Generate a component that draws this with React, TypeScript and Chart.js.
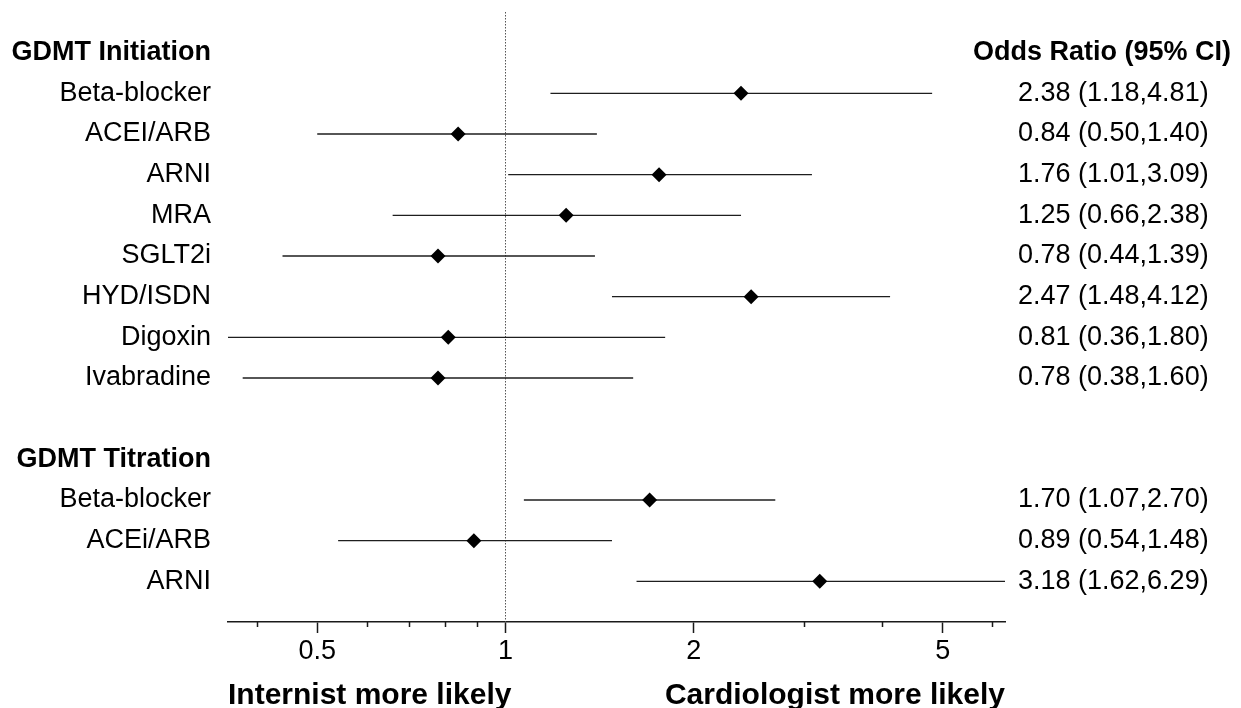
import React, { useEffect, useRef } from 'react';
import { Chart, registerables } from 'chart.js';

Chart.register(...registerables);

// ---- data ----
const rowLabels = [
  'GDMT Initiation',
  'Beta-blocker',
  'ACEI/ARB',
  'ARNI',
  'MRA',
  'SGLT2i',
  'HYD/ISDN',
  'Digoxin',
  'Ivabradine',
  '',
  'GDMT Titration',
  'Beta-blocker',
  'ACEi/ARB',
  'ARNI',
];
const headerRows = [0, 10];
const oddsRatio = [null, 2.38, 0.84, 1.76, 1.25, 0.78, 2.47, 0.81, 0.78, null, null, 1.7, 0.89, 3.18];
const ciLower = [null, 1.18, 0.5, 1.01, 0.66, 0.44, 1.48, 0.36, 0.38, null, null, 1.07, 0.54, 1.62];
const ciUpper = [null, 4.81, 1.4, 3.09, 2.38, 1.39, 4.12, 1.8, 1.6, null, null, 2.7, 1.48, 6.29];
const majorTicks = [0.5, 1, 2, 5];
const minorTicks = [0.4, 0.6, 0.7, 0.8, 0.9, 3, 4, 6];
const columnHeader = 'Odds Ratio (95% CI)';
const directionLabels = ['Internist more likely', 'Cardiologist more likely'];
const referenceValue = 1;

// ---- style ----
const FONT = '"Liberation Sans", Arial, Helvetica, sans-serif';
const AXIS_COLOR = '#1a1a1a';
const LINE_COLOR = '#1e1e1e';

const ciText = rowLabels.map((_, i) =>
  oddsRatio[i] == null
    ? ''
    : `${(oddsRatio[i] as number).toFixed(2)} (${(ciLower[i] as number).toFixed(2)},${(ciUpper[i] as number).toFixed(2)})`
);

const rowIdx = rowLabels.map((_, i) => i);
const dataRows = rowIdx.filter((i) => oddsRatio[i] != null);

const xMin = Math.min(...(ciLower.filter((v) => v != null) as number[]));
const xMax = Math.max(...(ciUpper.filter((v) => v != null) as number[]));

const annotations = {
  id: 'annotations',
  afterDraw(chart: any) {
    const { ctx, chartArea, scales } = chart;
    const x = scales.x;
    const y = scales.y;
    ctx.save();
    // minor ticks
    ctx.strokeStyle = AXIS_COLOR;
    ctx.lineWidth = 1.5;
    minorTicks.forEach((v) => {
      const px = Math.round(x.getPixelForValue(v)) + 0.5;
      ctx.beginPath();
      ctx.moveTo(px, chartArea.bottom);
      ctx.lineTo(px, chartArea.bottom + 5);
      ctx.stroke();
    });
    // column header
    ctx.fillStyle = '#000';
    ctx.textBaseline = 'middle';
    ctx.font = `bold 27px ${FONT}`;
    ctx.textAlign = 'right';
    ctx.fillText(columnHeader, chart.width - 10, y.getPixelForValue(0));
    // direction labels
    ctx.font = `bold 30px ${FONT}`;
    const yb = chart.height - 12;
    ctx.textAlign = 'left';
    ctx.fillText(directionLabels[0], chartArea.left, yb);
    ctx.textAlign = 'right';
    ctx.fillText(directionLabels[1], chartArea.right, yb);
    ctx.restore();
  },
};

export default function App() {
  const ref = useRef<HTMLCanvasElement | null>(null);

  useEffect(() => {
    if (!ref.current) return;
    const ciDatasets = dataRows.map((i) => ({
      type: 'scatter' as const,
      data: [
        { x: ciLower[i], y: i },
        { x: ciUpper[i], y: i },
      ],
      showLine: true,
      borderColor: LINE_COLOR,
      borderWidth: 1.4,
      pointRadius: 0,
      order: 1,
    }));
    const chart = new Chart(ref.current, {
      type: 'scatter',
      data: {
        datasets: [
          {
            data: dataRows.map((i) => ({ x: oddsRatio[i], y: i })),
            pointStyle: 'rectRot',
            pointRadius: 7.5,
            backgroundColor: '#000',
            borderColor: '#000',
            borderWidth: 0,
            order: 0,
          },
          ...ciDatasets,
          {
            data: [
              { x: referenceValue, y: -1 },
              { x: referenceValue, y: 14 },
            ],
            showLine: true,
            borderColor: '#555',
            borderWidth: 1,
            borderDash: [1.5, 1.5],
            pointRadius: 0,
            order: 2,
          },
        ] as any,
      },
      options: {
        animation: false,
        responsive: true,
        maintainAspectRatio: false,
        layout: { padding: { top: 12, left: 0, right: 0, bottom: 0 } },
        plugins: { legend: { display: false }, tooltip: { enabled: false } },
        scales: {
          x: {
            type: 'logarithmic',
            min: xMin,
            max: xMax,
            position: 'bottom',
            afterBuildTicks: (axis: any) => {
              axis.ticks = majorTicks.map((v) => ({ value: v }));
            },
            afterFit: (axis: any) => {
              axis.height = 86;
              axis.paddingLeft = 0;
              axis.paddingRight = 0;
            },
            grid: {
              display: true,
              drawOnChartArea: false,
              drawTicks: true,
              tickLength: 11,
              tickWidth: 1.5,
              tickColor: AXIS_COLOR,
            },
            border: { display: true, color: AXIS_COLOR, width: 1.5 },
            ticks: {
              autoSkip: false,
              maxRotation: 0,
              padding: 2,
              color: '#000',
              font: { family: FONT, size: 27 },
              callback: (v: any) => String(v),
            },
          },
          y: {
            type: 'linear',
            reverse: true,
            min: -1,
            max: 14,
            position: 'left',
            afterBuildTicks: (axis: any) => {
              axis.ticks = rowIdx.map((v) => ({ value: v }));
            },
            afterFit: (axis: any) => {
              axis.width = 228;
              axis.paddingTop = 0;
              axis.paddingBottom = 0;
            },
            grid: { display: false, drawTicks: false },
            border: { display: false },
            ticks: {
              autoSkip: false,
              padding: 17,
              color: '#000',
              font: (c: any) => ({
                family: FONT,
                size: 27,
                weight: headerRows.includes(c.index) ? 'bold' : 'normal',
              }),
              callback: (v: any) => rowLabels[v] ?? '',
            },
          },
          y2: {
            type: 'linear',
            reverse: true,
            min: -1,
            max: 14,
            position: 'right',
            afterBuildTicks: (axis: any) => {
              axis.ticks = rowIdx.map((v) => ({ value: v }));
            },
            afterFit: (axis: any) => {
              axis.width = 236;
              axis.paddingTop = 0;
              axis.paddingBottom = 0;
            },
            grid: { display: false, drawTicks: false },
            border: { display: false },
            ticks: {
              autoSkip: false,
              padding: 13,
              color: '#000',
              font: { family: FONT, size: 27 },
              callback: (v: any) => ciText[v] ?? '',
            },
          },
        },
      } as any,
      plugins: [annotations],
    });
    return () => chart.destroy();
  }, []);

  return (
    <div style={{ position: 'absolute', left: 0, top: 0, width: 1241, height: 708, background: '#fff' }}>
      <canvas ref={ref} />
    </div>
  );
}
